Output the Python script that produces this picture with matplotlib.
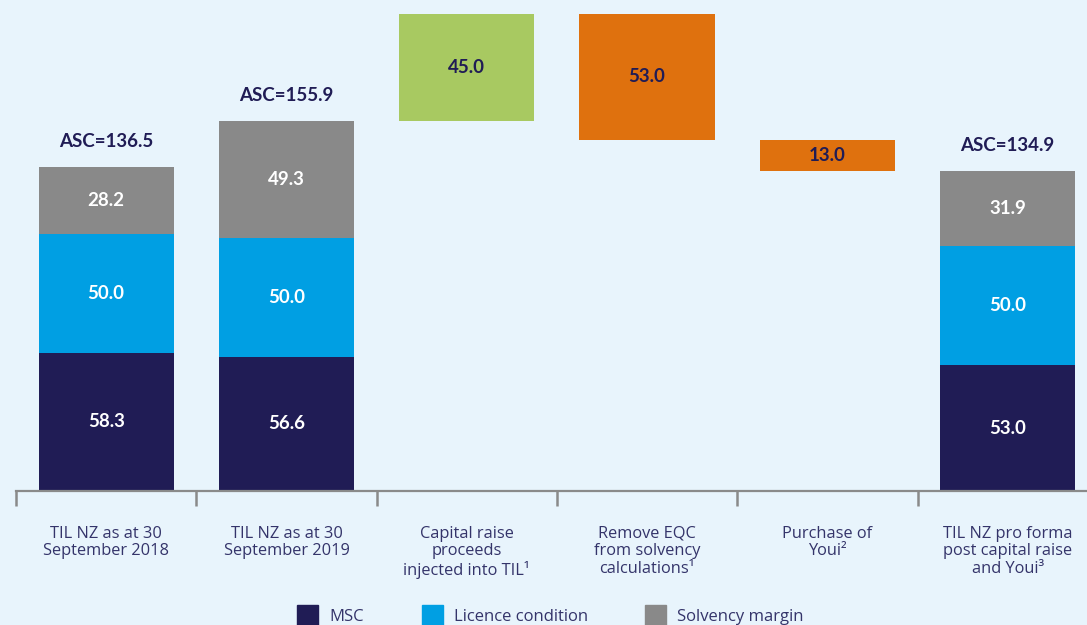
import matplotlib
matplotlib.use("Agg")
import matplotlib.pyplot as plt
from matplotlib.patches import Rectangle

# ---- data ----
categories = [
    "TIL NZ as at 30\nSeptember 2018",
    "TIL NZ as at 30\nSeptember 2019",
    "Capital raise\nproceeds\ninjected into TIL\u00b9",
    "Remove EQC\nfrom solvency\ncalculations\u00b9",
    "Purchase of\nYoui\u00b2",
    "TIL NZ pro forma\npost capital raise\nand Youi\u00b3",
]
stack_idx = [0, 1, 5]
msc = [58.3, 56.6, 53.0]
licence = [50.0, 50.0, 50.0]
solvency = [28.2, 49.3, 31.9]
asc_totals = [136.5, 155.9, 134.9]
move_idx = [2, 3, 4]
movements = [45.0, -53.0, -13.0]
series_names = ["MSC", "Licence condition", "Solvency margin"]

# ---- style ----
BG = "#e8f4fc"
NAVY = "#201c55"
BLUE = "#009fe3"
GREY = "#898989"
GREEN = "#a8c961"
ORANGE = "#df710e"
AXIS = "#8a8a8a"
TXT = "#34346a"
FONT = ["Lato", "DejaVu Sans"]
LFONT = ["Open Sans", "DejaVu Sans"]
plt.rcParams["font.family"] = FONT

fig = plt.figure(figsize=(10.87, 6.25), dpi=100, facecolor=BG)
ax = fig.add_axes([16/1087, 134/625, (1087-16)/1087, 491/625])
ax.set_facecolor(BG)
W = 0.75

# stacked bars
ax.bar(stack_idx, msc, W, color=NAVY)
ax.bar(stack_idx, licence, W, bottom=msc, color=BLUE)
bot3 = [m + l for m, l in zip(msc, licence)]
ax.bar(stack_idx, solvency, W, bottom=bot3, color=GREY)
for x, m, l, s, t in zip(stack_idx, msc, licence, solvency, asc_totals):
    ax.text(x, m/2, f"{m:.1f}", ha="center", va="center", color="white",
            fontsize=13.5, fontweight="bold")
    ax.text(x, m + l/2, f"{l:.1f}", ha="center", va="center", color="white",
            fontsize=13.5, fontweight="bold")
    ax.text(x, m + l + s/2, f"{s:.1f}", ha="center", va="center", color="white",
            fontsize=13.5, fontweight="bold")
    ax.annotate(f"ASC={t:.1f}", (x, t), xytext=(0, 18), textcoords="offset points",
                ha="center", va="center", color=NAVY, fontsize=13.5, fontweight="bold")

# waterfall movements
level = asc_totals[1]
for x, mv in zip(move_idx, movements):
    new = level + mv
    bottom = min(level, new)
    ax.bar(x, abs(mv), W, bottom=bottom, color=GREEN if mv > 0 else ORANGE)
    ax.text(x, bottom + abs(mv)/2, f"{abs(mv):.1f}", ha="center", va="center",
            color=NAVY, fontsize=13.5, fontweight="bold")
    level = new

ax.set_xlim(-0.5, 5.44)
ax.set_ylim(0, 206.7)
for s in ["top", "right", "left"]:
    ax.spines[s].set_visible(False)
ax.spines["bottom"].set_color(AXIS)
ax.spines["bottom"].set_linewidth(1.6)
ax.set_yticks([])
ax.set_xticks([i - 0.5 for i in range(6)])
ax.set_xticklabels([])
ax.tick_params(axis="x", which="major", length=11, width=1.8, color=AXIS, direction="out")
ax.set_xticks(range(6), minor=True)
ax.set_xticklabels(categories, minor=True, fontsize=11.8, color=TXT, linespacing=1.12,
                   family=LFONT)
ax.tick_params(axis="x", which="minor", length=0, pad=25)

# legend (manual, cut off at bottom like reference)
leg_colors = [NAVY, BLUE, GREY]
leg_x = [297, 422, 645]
for name, c, x in zip(series_names, leg_colors, leg_x):
    fig.patches.append(Rectangle((x/1087, -6/625), 21/1087, 26/625,
                                 transform=fig.transFigure, color=c, figure=fig))
    fig.text((x + 32)/1087, 1 - 617/625, name, ha="left", va="center",
             fontsize=12, color=TXT, family=LFONT)

fig.savefig("out.png", dpi=100, facecolor=BG)
